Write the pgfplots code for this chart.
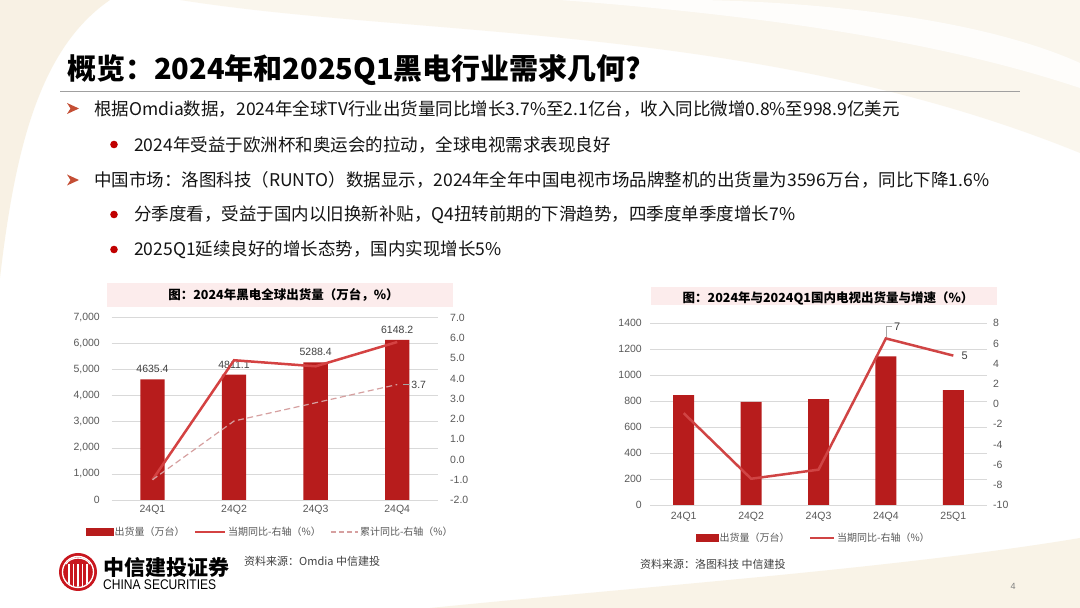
\documentclass[border=0pt]{standalone}
\usepackage{fontspec}
\usepackage{graphicx}
\usepackage{pgfplots}
\pgfplotsset{compat=1.18}
\setmainfont{Liberation Sans}
\newfontfamily\cjk{Noto Sans CJK SC}
\newcommand\fs[1]{\fontsize{#1bp}{#1bp}\selectfont}
\definecolor{barc}{RGB}{183,28,28}
\definecolor{solidc}{RGB}{212,66,66}
\definecolor{solidb}{RGB}{208,68,68}
\definecolor{dashc}{RGB}{214,160,160}
\definecolor{gridc}{RGB}{217,217,217}
\definecolor{tickc}{RGB}{89,89,89}
\definecolor{labc}{RGB}{64,64,64}
\definecolor{bandc}{RGB}{252,236,236}
\definecolor{arrowc}{RGB}{196,78,52}
\definecolor{dotc}{RGB}{192,0,0}
\definecolor{textc}{RGB}{20,20,20}
\definecolor{rulec}{RGB}{160,160,160}
\definecolor{cream}{RGB}{240,226,196}
\definecolor{logoc}{RGB}{200,22,30}
\begin{document}
\begin{tikzpicture}[x=1bp,y=1bp]
\fill[white] (0,0) rectangle (1080,608);
% background swooshes
\fill[cream, opacity=0.45] (0,608) -- (0,330) .. controls (15,460) and (40,560) .. (110,608) -- cycle;
\fill[cream, opacity=0.30] (180,608) .. controls (420,570) and (760,585) .. (1080,455) -- (1080,608) -- cycle;
\fill[white, opacity=0.8] (560,608) .. controls (800,590) and (960,560) .. (1080,520) -- (1080,545) .. controls (980,590) and (820,606) .. (700,608) -- cycle;
\fill[cream, opacity=0.40] (430,0) .. controls (650,22) and (900,40) .. (1080,70) -- (1080,0) -- cycle;
% title
\node[anchor=west, inner sep=0pt, font=\cjk\bfseries\fs{29}, text=black] at (67,538) {概览：2024年和2025Q1黑电行业需求几何?};
\draw[rulec, line width=0.8bp] (60,517) -- (1020,517);
% body text
\begin{scope}[every node/.style={anchor=west, inner sep=0pt, font=\cjk\fs{17.5}, text=textc}]
\fill[arrowc] (67,505) -- (79,499.5) -- (67,494) -- (70.5,499.5) -- cycle;
\node at (94,499.5) {根据Omdia数据，2024年全球TV行业出货量同比增长3.7\%至2.1亿台，收入同比微增0.8\%至998.9亿美元};
\fill[dotc] (114,463.5) circle (3.8);
\node at (134,463.5) {2024年受益于欧洲杯和奥运会的拉动，全球电视需求表现良好};
\fill[arrowc] (67,433.5) -- (79,428) -- (67,422.5) -- (70.5,428) -- cycle;
\node at (94,428) {中国市场：洛图科技（RUNTO）数据显示，2024年全年中国电视市场品牌整机的出货量为3596万台，同比下降1.6\%};
\fill[dotc] (114,393.5) circle (3.8);
\node at (134,393.5) {分季度看，受益于国内以旧换新补贴，Q4扭转前期的下滑趋势，四季度单季度增长7\%};
\fill[dotc] (114,358.5) circle (3.8);
\node at (134,358.5) {2025Q1延续良好的增长态势，国内实现增长5\%};
\end{scope}
% chart title bands
\fill[bandc] (107,301) rectangle (453,325);
\node[font=\cjk\bfseries\fs{12.5}, text=black] at (283.5,313.4) {图：2024年黑电全球出货量（万台，\%）};
\fill[bandc] (651,303) rectangle (997,321);
\node[font=\cjk\bfseries\fs{12.5}, text=black] at (828,309.5) {图：2024年与2024Q1国内电视出货量与增速（\%）};

% ---------- chart 1 ----------
\begin{axis}[
  at={(111.7bp,108bp)}, anchor=south west, scale only axis,
  width=326.3bp, height=182.3bp,
  xmin=-0.5, xmax=3.5, ymin=0, ymax=7000,
  xtick={0,1,2,3}, xticklabels={24Q1,24Q2,24Q3,24Q4},
  ytick={0,1000,...,7000},
  axis x line*=bottom, axis y line*=left,
  axis line style={draw=none},
  major tick length=0pt,
  ymajorgrids, grid style={draw=gridc, line width=0.75bp},
  tick label style={font=\fs{10.5}, text=tickc},
  yticklabel style={inner sep=0pt, xshift=-11.7bp},
  xticklabel style={inner sep=0pt, yshift=-5bp},
  /pgf/number format/1000 sep={,},
  /pgf/number format/assume math mode=true,
  clip=false,
]
\addplot[ybar, bar width=24.3bp, fill=barc, draw=none,
  point meta=y,
  nodes near coords={\pgfmathprintnumber[fixed,fixed zerofill,precision=1,1000 sep={}]{\pgfplotspointmeta}},
  every node near coord/.append style={font=\fs{10.5}, text=labc, inner sep=0pt, yshift=6bp}]
  coordinates {(0,4635.4) (1,4811.1) (2,5288.4) (3,6148.2)};
\end{axis}
\begin{axis}[
  at={(111.7bp,108bp)}, anchor=south west, scale only axis,
  width=326.3bp, height=182.3bp,
  xmin=-0.5, xmax=3.5, ymin=-2, ymax=7,
  ytick={-2,...,7}, xtick=\empty,
  axis y line*=right, axis x line=none,
  axis line style={draw=none}, major tick length=0pt,
  tick label style={font=\fs{10.5}, text=tickc},
  yticklabel={\pgfmathprintnumber[fixed,fixed zerofill,precision=1]{\tick}},
  yticklabel style={inner sep=0pt, xshift=12bp},
  /pgf/number format/assume math mode=true,
  clip=false,
  legend style={at={(0.485,-0.176)}, anchor=center, draw=none, fill=none,
    font=\cjk\fs{10}, text=tickc, legend columns=-1,
    /tikz/every even column/.append style={column sep=8bp},
    nodes={inner sep=1.5bp}},
]
\addlegendimage{legend image code/.code={\fill[barc] (0bp,-3.5bp) rectangle (27bp,3.5bp);}}
\addlegendentry{出货量（万台）}
\addplot[solidc, line width=2.5bp, mark=none,
  legend image code/.code={\draw[solidc, line width=2.5bp] (0bp,0bp) -- (30bp,0bp);}]
  coordinates {(0,-1.0) (1,4.9) (2,4.6) (3,5.8)};
\addlegendentry{当期同比-右轴（\%）}
\addplot[dashc, line width=1.2bp, mark=none, dash pattern=on 6bp off 3.5bp,
  legend image code/.code={\draw[dashc, line width=1.2bp, dash pattern=on 5bp off 3bp] (0bp,0bp) -- (27bp,0bp);}]
  coordinates {(0,-1.0) (1,1.9) (2,2.8) (3,3.7)};
\addlegendentry{累计同比-右轴（\%）}
\draw[gray!70, line width=0.6bp] ([xshift=6bp]axis cs:3,3.7) -- ([xshift=13bp]axis cs:3,3.7);
\node[anchor=west, inner sep=0pt, font=\fs{10.5}, text=labc] at ([xshift=14bp]axis cs:3,3.7) {3.7};
\end{axis}

% ---------- chart 2 ----------
\begin{axis}[
  at={(650bp,103bp)}, anchor=south west, scale only axis,
  width=337bp, height=181.7bp,
  xmin=-0.5, xmax=4.5, ymin=0, ymax=1400,
  xtick={0,1,2,3,4}, xticklabels={24Q1,24Q2,24Q3,24Q4,25Q1},
  ytick={0,200,...,1400},
  axis x line*=bottom, axis y line*=left,
  axis line style={draw=none},
  major tick length=0pt,
  ymajorgrids, grid style={draw=gridc, line width=0.75bp},
  tick label style={font=\fs{10.5}, text=tickc},
  yticklabel style={inner sep=0pt, xshift=-8bp},
  xticklabel style={inner sep=0pt, yshift=-7bp},
  /pgf/number format/1000 sep={},
  /pgf/number format/assume math mode=true,
  clip=false,
]
\addplot[ybar, bar width=21bp, fill=barc, draw=none]
  coordinates {(0,846) (1,795) (2,815) (3,1146) (4,885)};
\end{axis}
\begin{axis}[
  at={(650bp,103bp)}, anchor=south west, scale only axis,
  width=337bp, height=181.7bp,
  xmin=-0.5, xmax=4.5, ymin=-10, ymax=8,
  ytick={-10,-8,...,8}, xtick=\empty,
  axis y line*=right, axis x line=none,
  axis line style={draw=none}, major tick length=0pt,
  tick label style={font=\fs{10.5}, text=tickc},
  yticklabel style={inner sep=0pt, xshift=6bp},
  /pgf/number format/assume math mode=true,
  clip=false,
  legend style={at={(0.485,-0.182)}, anchor=center, draw=none, fill=none,
    font=\cjk\fs{10}, text=tickc, legend columns=-1,
    /tikz/every even column/.append style={column sep=18bp},
    nodes={inner sep=1.5bp}},
]
\addlegendimage{legend image code/.code={\fill[barc] (0bp,-3.5bp) rectangle (22bp,3.5bp);}}
\addlegendentry{出货量（万台）}
\addplot[solidb, line width=2.5bp, mark=none,
  legend image code/.code={\draw[solidb, line width=2.5bp] (0bp,0bp) -- (24bp,0bp);}]
  coordinates {(0,-0.9) (1,-7.4) (2,-6.5) (3,6.5) (4,4.8)};
\addlegendentry{当期同比-右轴（\%）}
\draw[gray!70, line width=0.6bp] ([yshift=1bp]axis cs:3,6.5) -- ([yshift=12bp]axis cs:3,6.5) -- ([xshift=6bp,yshift=12bp]axis cs:3,6.5);
\node[anchor=west, inner sep=0pt, font=\fs{11}, text=labc] at ([xshift=8bp,yshift=12bp]axis cs:3,6.5) {7};
\node[anchor=west, inner sep=0pt, font=\fs{11}, text=labc] at ([xshift=8bp]axis cs:4,4.8) {5};
\end{axis}

% ---------- footer ----------
\fill[logoc] (78,36) circle (19);
\draw[white, line width=1.3bp] (78,36) circle (15.5);
\begin{scope}
\clip (78,36) circle (14.8);
\foreach \dx in {-9,-4.5,0,4.5,9} {
  \draw[white, line width=1.4bp] (78+\dx,18) -- (78+\dx,44);
}
\draw[white, line width=1.4bp] (66,44) .. controls (70,52) and (86,52) .. (90,44);
\end{scope}
\node[anchor=west, inner sep=0pt, font=\cjk\bfseries\fs{21}, text=black] at (103,41) {中信建投证券};
\node[anchor=west, inner sep=0pt, text=black] at (103,23) {\scalebox{0.86}[1]{\fs{14}CHINA SECURITIES}};
\node[anchor=west, inner sep=0pt, font=\cjk\fs{11}, text=labc] at (244,47) {资料来源：Omdia 中信建投};
\node[anchor=west, inner sep=0pt, font=\cjk\fs{11}, text=labc] at (640,44) {资料来源：洛图科技 中信建投};
\node[inner sep=0pt, font=\fs{9}, text=gray] at (1013,22) {4};
\end{tikzpicture}
\end{document}
